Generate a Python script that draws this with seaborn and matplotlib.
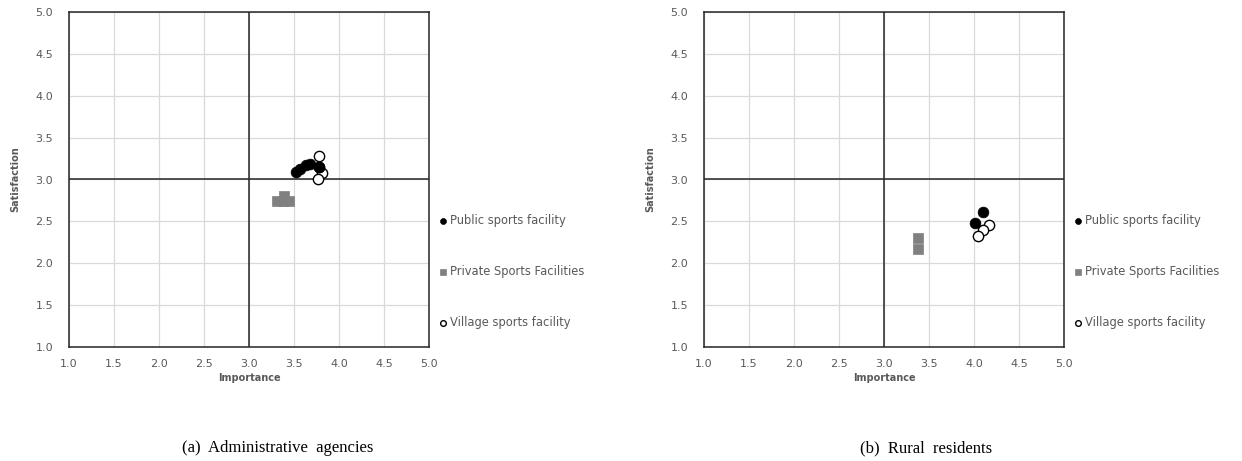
import numpy as np
import pandas as pd
import seaborn as sns
import matplotlib.pyplot as plt

# values
public_a_x = [3.52, 3.57, 3.63, 3.68, 3.78]
public_a_y = [3.09, 3.13, 3.17, 3.19, 3.15]
private_a_x = [3.31, 3.38, 3.44, 3.39]
private_a_y = [2.74, 2.74, 2.74, 2.80]
village_a_x = [3.78, 3.81, 3.77, 3.78]
village_a_y = [3.28, 3.08, 3.00, 3.15]

public_b_x = [4.10, 4.01]
public_b_y = [2.61, 2.48]
private_b_x = [3.38, 3.38]
private_b_y = [2.30, 2.17]
village_b_x = [4.17, 4.10, 4.04]
village_b_y = [2.46, 2.40, 2.33]

series_names = ["Public sports facility", "Private Sports Facilities", "Village sports facility"]
ticks = [1.0, 1.5, 2.0, 2.5, 3.0, 3.5, 4.0, 4.5, 5.0]
captions = ["(a)  Administrative  agencies", "(b)  Rural  residents"]

sns.set_style("white")
plt.rcParams['font.family'] = ['DejaVu Sans']

TICK_COLOR = "#595959"


def draw_panel(ax, pub, priv, vill):
    """ One importance-satisfaction quadrant chart. """
    ax.set_axisbelow(True)
    for t in ticks:
        ax.axvline(t, color="#d9d9d9", lw=0.9, zorder=0)
        ax.axhline(t, color="#d9d9d9", lw=0.9, zorder=0)
    ax.axvline(3.0, color="#262626", lw=1.1, zorder=1)
    ax.axhline(3.0, color="#262626", lw=1.1, zorder=1)

    df_pub = pd.DataFrame({"x": pub[0], "y": pub[1]})
    df_priv = pd.DataFrame({"x": priv[0], "y": priv[1]})
    df_vill = pd.DataFrame({"x": vill[0], "y": vill[1]})

    sns.scatterplot(data=df_priv, x="x", y="y", ax=ax, marker="s", s=58,
                    color="#808080", edgecolor="#808080", linewidth=0.5,
                    label=series_names[1], zorder=3)
    sns.scatterplot(data=df_vill, x="x", y="y", ax=ax, marker="o", s=55,
                    facecolor="white", edgecolor="black", linewidth=1.0,
                    label=series_names[2], zorder=3)
    sns.scatterplot(data=df_pub, x="x", y="y", ax=ax, marker="o", s=60,
                    color="black", edgecolor="black", linewidth=0.5,
                    label=series_names[0], zorder=4)

    ax.set_xlim(1.0, 5.0)
    ax.set_ylim(1.0, 5.0)
    ax.set_xticks(ticks)
    ax.set_yticks(ticks)
    ax.set_xticklabels([f"{t:.1f}" for t in ticks])
    ax.set_yticklabels([f"{t:.1f}" for t in ticks])
    ax.tick_params(length=0, labelsize=8, colors=TICK_COLOR)
    ax.tick_params(axis="x", pad=8.5)
    ax.tick_params(axis="y", pad=11.5)
    ax.set_xlabel("Importance", fontsize=7, fontweight="bold", color=TICK_COLOR, labelpad=3)
    ax.set_ylabel("Satisfaction", fontsize=7, fontweight="bold", color=TICK_COLOR, labelpad=11)
    for sp in ax.spines.values():
        sp.set_visible(True)
        sp.set_color("#262626")
        sp.set_linewidth(1.1)

    # legend to the right of the plot, in the original series order
    handles, labels = ax.get_legend_handles_labels()
    order = [labels.index(n) for n in series_names]
    leg = ax.legend([handles[i] for i in order], [labels[i] for i in order],
                    loc="center left", bbox_to_anchor=(1.0, 0.225), frameon=False,
                    fontsize=8.3, labelspacing=3.3, handletextpad=0.0,
                    handlelength=1.1, markerscale=0.55, borderaxespad=0.3)
    for txt in leg.get_texts():
        txt.set_color(TICK_COLOR)


fig = plt.figure(figsize=(12.42, 4.61), dpi=100)
ax1 = fig.add_axes([69 / 1242, 114 / 461, 360 / 1242, 335 / 461])
ax2 = fig.add_axes([704 / 1242, 114 / 461, 360 / 1242, 335 / 461])

draw_panel(ax1, (public_a_x, public_a_y), (private_a_x, private_a_y), (village_a_x, village_a_y))
draw_panel(ax2, (public_b_x, public_b_y), (private_b_x, private_b_y), (village_b_x, village_b_y))

fig.text(182 / 1242, 9 / 461, captions[0], family=["Liberation Serif"], fontsize=12,
         ha="left", va="baseline", color="black")
fig.text(860 / 1242, 9 / 461, captions[1], family=["Liberation Serif"], fontsize=12,
         ha="left", va="baseline", color="black")

fig.savefig("out.png", dpi=100)
